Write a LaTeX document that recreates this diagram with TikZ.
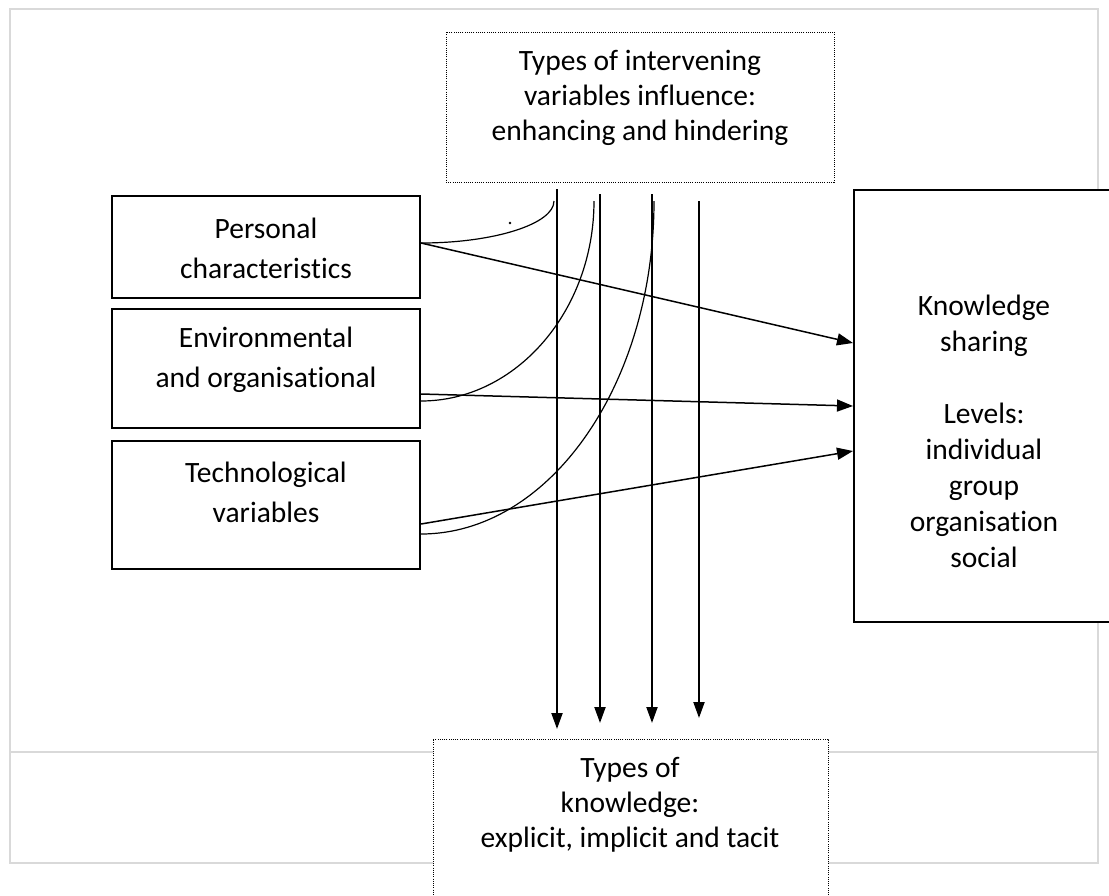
\documentclass[tikz,border=0pt]{standalone}
\usepackage{fontspec}
\setmainfont{Carlito}[Ligatures=NoCommon]
\usetikzlibrary{arrows.meta}

\begin{document}
\begin{tikzpicture}[x=0.5pt, y=-0.5pt,
    box/.style={draw, line width=1pt, fill=white, inner sep=0pt},
    dotbox/.style={draw, line width=0.5pt, dash pattern=on 0.5pt off 0.6pt, fill=white, inner sep=0pt},
    txt/.style={align=center, inner sep=0pt, font=\fontsize{14.75}{17.5}\selectfont},
    txtwide/.style={txt, font=\fontsize{14.75}{20}\selectfont},
    frame/.style={draw=black!15, line width=0.8pt},
    link/.style={line width=0.75pt, -{Triangle[length=8pt, width=6pt]}},
    flow/.style={line width=1pt, -{Triangle[length=8pt, width=5.5pt]}},
    curvelink/.style={line width=0.6pt}]
  \useasboundingbox (0,0) rectangle (1109,895);

  % Grey table frame behind the diagram
  \draw[frame] (10,9) rectangle (1098,863);
  \draw[frame] (10,752) -- (1098,752);

  % Boxes
  \node[dotbox, minimum width=194pt, minimum height=75pt] (iv) at (640,107) {};
  \node[box, minimum width=154pt, minimum height=51pt] (pc) at (266,247) {};
  \node[box, minimum width=154pt, minimum height=59.5pt] (eo) at (266,368.5) {};
  \node[box, minimum width=154pt, minimum height=64pt] (tv) at (266,505) {};
  \node[box, minimum width=130pt, minimum height=216pt] (ks) at (984,406) {};
  \node[dotbox, minimum width=197.5pt, minimum height=83pt] (tk) at (630.5,822) {};

  % Texts
  \node[txt] (ivtext) at (640,98) {Types of intervening\\variables influence:\\enhancing and hindering};
  \node[txtwide] (pctext) at (266,248) {Personal\\characteristics};
  \node[txtwide] (eotext) at (266,360) {Environmental\\and organisational};
  \node[txtwide] (tvtext) at (266,492) {Technological\\variables};
  \node[txt, font=\fontsize{14.75}{18}\selectfont] (kstext) at (984,431)
    {Knowledge\\sharing\\[18pt]Levels:\\individual\\group\\organisation\\social};
  \node[txt] (tktext) at (630,805) {Types of\\knowledge:\\explicit, implicit and tacit};

  % Ends of the curved links, next to the vertical arrows
  \coordinate (c1) at (554,201);
  \coordinate (c2) at (594,201);
  \coordinate (c3) at (654,201);

  % Vertical arrows: x / top / tip
  \foreach \x/\a/\b [count=\i] in {557/189/729, 600/194/723, 652/194/723, 699/201/718} {
    \coordinate (vt\i) at (\x,\a);
    \coordinate (vb\i) at (\x,\b);
    \draw[flow] (vt\i) -- (vb\i);
  }

  % Curved links to the influence arrows
  \draw[curvelink] ([yshift=2pt]pc.east) .. controls (494,243) and (554,224) .. (c1);
  \draw[curvelink] ([yshift=-16.25pt]eo.east) .. controls (516,401) and (594,311) .. (c2);
  \draw[curvelink] ([yshift=-14.5pt]tv.east) .. controls (549,534) and (654,385) .. (c3);

  % Links to knowledge sharing
  \draw[link] ([yshift=2pt]pc.east) -- ([yshift=31.5pt]ks.west);
  \draw[link] ([yshift=-12.75pt]eo.east) -- (ks.west);
  \draw[link] ([yshift=-9.5pt]tv.east) -- ([yshift=-22.5pt]ks.west);

  \fill (510,223) circle (0.7pt);
\end{tikzpicture}
\end{document}
